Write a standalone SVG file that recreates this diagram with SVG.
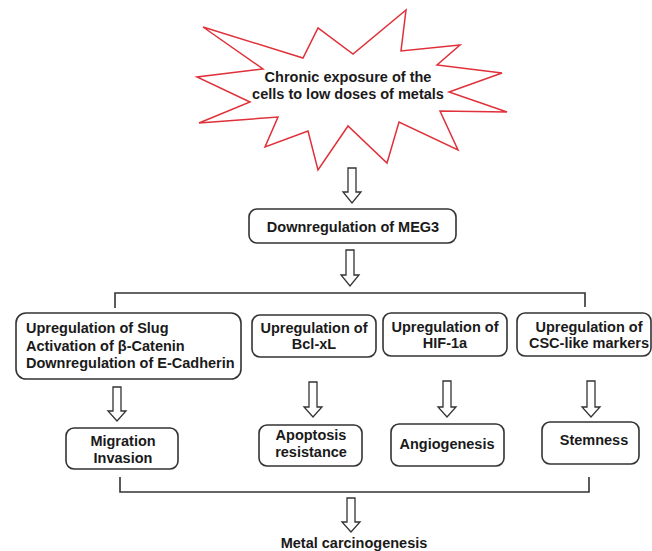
<svg xmlns="http://www.w3.org/2000/svg" width="652" height="551" viewBox="0 0 652 551">
<style>
.bg{fill:#fff}
.box{fill:#fff;stroke:#333;stroke-width:1.6}
.star{fill:#fff;stroke:#e0303a;stroke-width:1.5;stroke-linejoin:miter}
.arr{fill:#fff;stroke:#333;stroke-width:1.3;stroke-linejoin:miter}
.ln{fill:none;stroke:#333;stroke-width:1.6}
text{font-family:"Liberation Sans",Arial,sans-serif;font-weight:bold;font-size:14.5px;fill:#1a1a1a}
.c{text-anchor:middle}
</style>
<rect class="bg" x="0" y="0" width="652" height="551"/>

<g id="star">
<polygon class="star" points="203,27 303,58 318,28 353,54 406,10 401,51 460,45 437,65 502,73 449,92 507,112 440,111 458,150 399,122 387,163 348,126 318,170 308,131 265,147 278,117 199,123 250,102 197,77 263,69"/>
<text class="c" x="348" y="82">Chronic exposure of the</text>
<text class="c" x="348" y="99">cells to low doses of metals</text>
</g>

<g id="meg3">
<rect class="box" x="249" y="209" width="207" height="34" rx="8"/>
<text class="c" x="353" y="232">Downregulation of MEG3</text>
</g>

<g id="slug">
<rect class="box" x="16" y="313" width="225" height="66" rx="10"/>
<text x="26" y="333">Upregulation of Slug</text>
<text x="26" y="351">Activation of β-Catenin</text>
<text x="26" y="368">Downregulation of E-Cadherin</text>
</g>

<g id="bclxl">
<rect class="box" x="252" y="315" width="124" height="42" rx="8"/>
<text class="c" x="314" y="333">Upregulation of</text>
<text class="c" x="314" y="349">Bcl-xL</text>
</g>

<g id="hif">
<rect class="box" x="383" y="313" width="124" height="43" rx="8"/>
<text class="c" x="445" y="332">Upregulation of</text>
<text class="c" x="445" y="348">HIF-1a</text>
</g>

<g id="csc">
<rect class="box" x="517" y="313" width="134" height="43" rx="8"/>
<text class="c" x="589" y="332">Upregulation of</text>
<text class="c" x="589" y="348">CSC-like markers</text>
</g>

<g id="migration">
<rect class="box" x="66" y="428" width="112" height="41" rx="8"/>
<text class="c" x="123" y="446">Migration</text>
<text class="c" x="123" y="463">Invasion</text>
</g>

<g id="apoptosis">
<rect class="box" x="259" y="425" width="103" height="41" rx="8"/>
<text class="c" x="311" y="440">Apoptosis</text>
<text class="c" x="311" y="457">resistance</text>
</g>

<g id="angiogenesis">
<rect class="box" x="391" y="424" width="113" height="42" rx="8"/>
<text class="c" x="447" y="449">Angiogenesis</text>
</g>

<g id="stemness">
<rect class="box" x="542" y="422" width="97" height="42" rx="8"/>
<text class="c" x="594" y="445">Stemness</text>
</g>

<g id="metal">
<text class="c" x="354" y="548">Metal carcinogenesis</text>
</g>

<g id="connectors">
<path class="ln" d="M115,308 V293 H585 V307"/>
<path class="ln" d="M120,477 V492 H589 V477"/>
<path class="arr" d="M348,168 V192 H343 L352,203 L361,192 H356 V168 Z"/>
<path class="arr" d="M346,250 V275 H341 L350,286 L359,275 H354 V250 Z"/>
<path class="arr" d="M113,387 V411 H108 L117,421 L126,411 H121 V387 Z"/>
<path class="arr" d="M309,382 V407 H304 L313,417 L322,407 H317 V382 Z"/>
<path class="arr" d="M443,381 V407 H438 L447,417 L456,407 H451 V381 Z"/>
<path class="arr" d="M587,381 V407 H582 L591,417 L600,407 H595 V381 Z"/>
<path class="arr" d="M347,498 V522 H342 L351,532 L360,522 H355 V498 Z"/>
</g>
</svg>
